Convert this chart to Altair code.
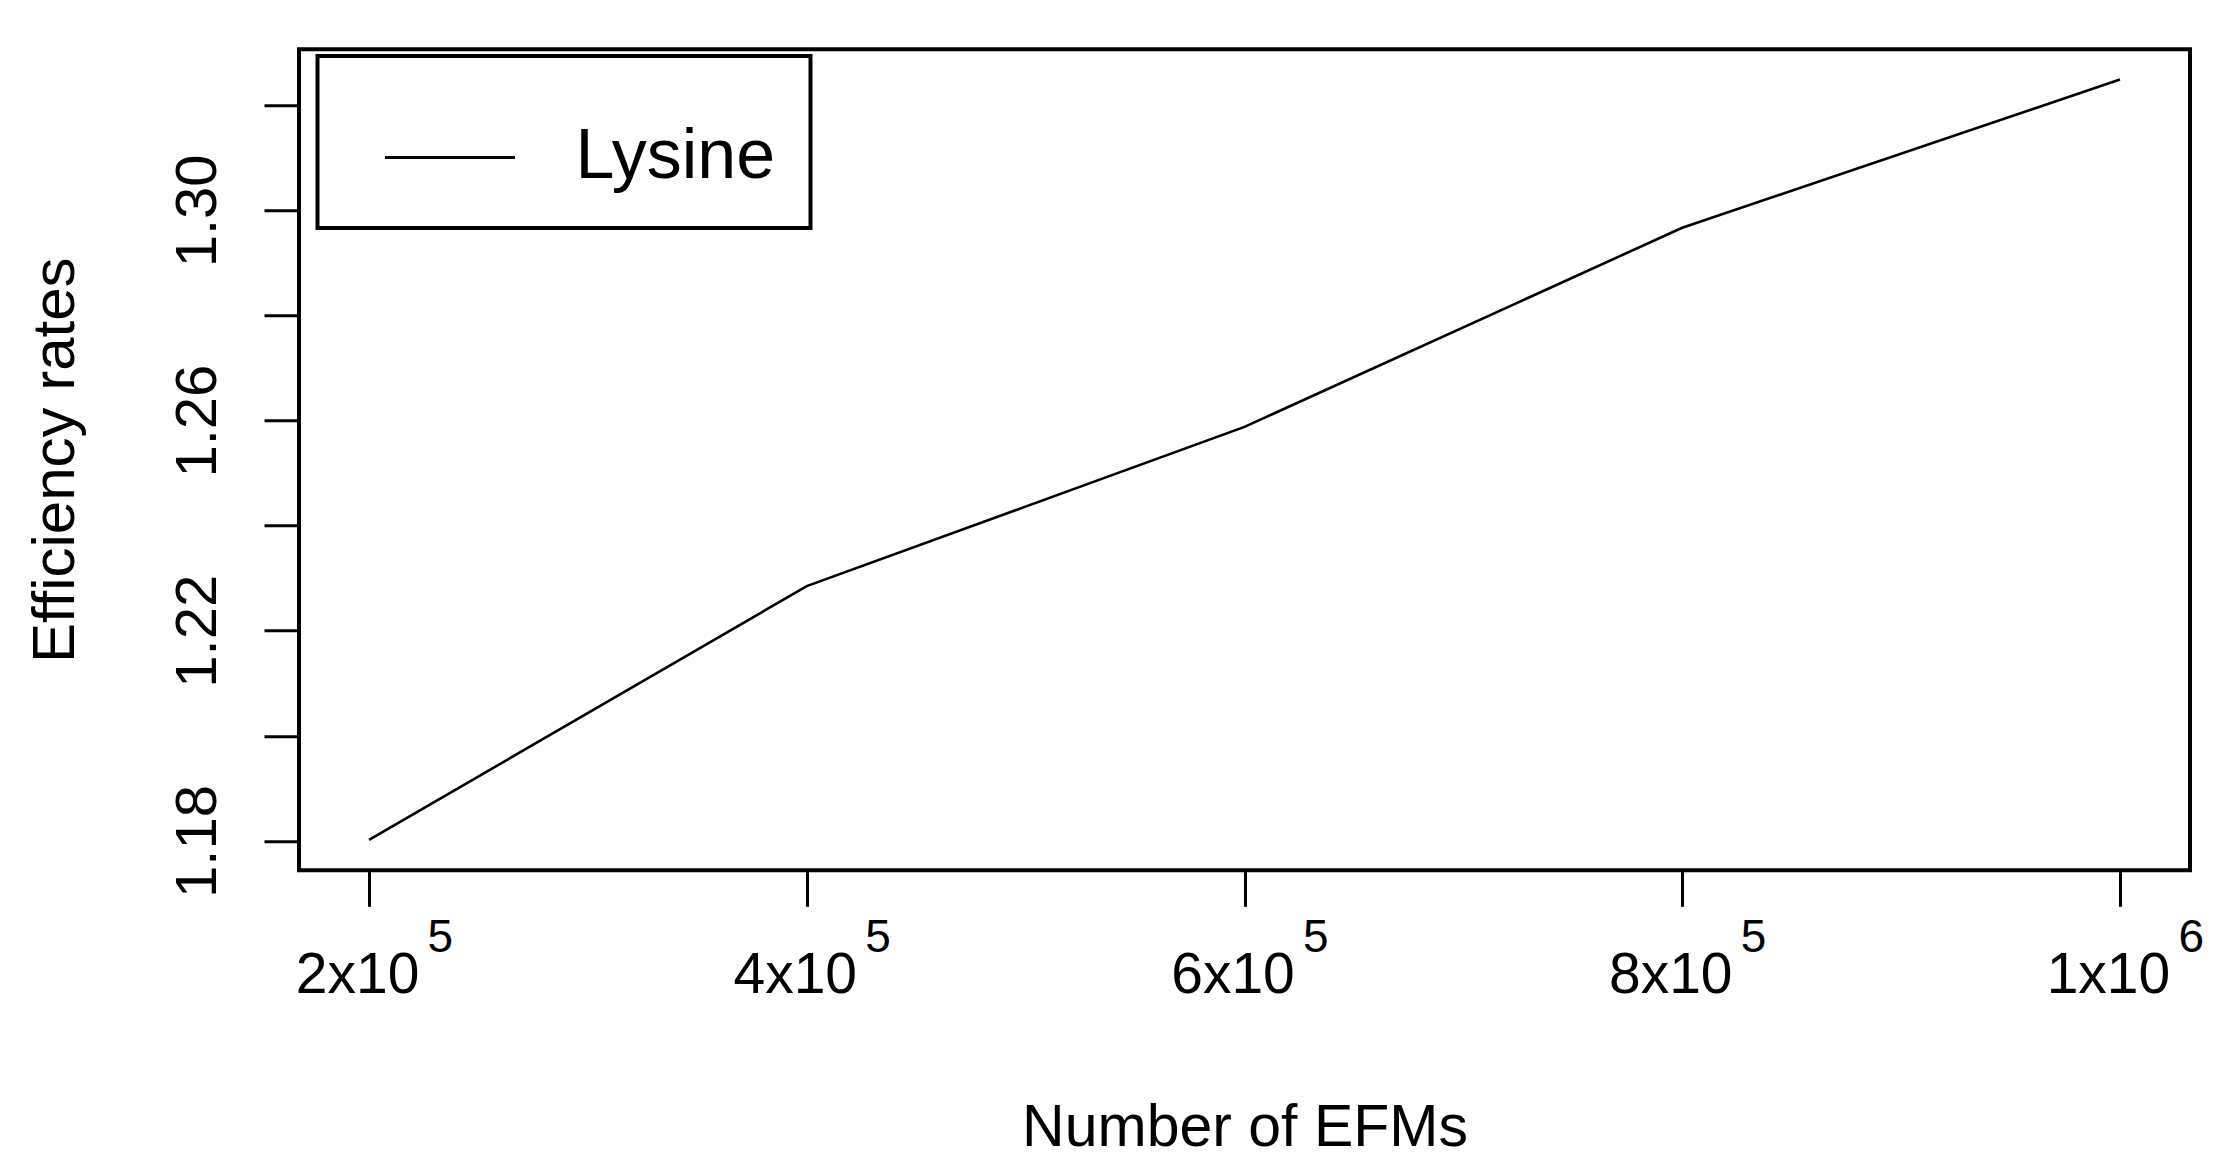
import altair as alt
import pandas as pd

# ---- data ----
efms = [200000, 400000, 600000, 800000, 1000000]
rates = [1.1802, 1.2285, 1.2588, 1.2967, 1.3249]
series = ["Lysine", "Lysine", "Lysine", "Lysine", "Lysine"]

x_tick_values = [200000, 400000, 600000, 800000, 1000000]
x_tick_bases = ["2x10", "4x10", "6x10", "8x10", "1x10"]
x_tick_exps = ["5", "5", "5", "5", "6"]

y_tick_values = [1.18, 1.20, 1.22, 1.24, 1.26, 1.28, 1.30, 1.32]
y_labelled = [1.18, 1.22, 1.26, 1.30]

x_domain = [168000, 1032000]
y_domain = [1.17442, 1.33066]

df = pd.DataFrame({"efms": efms, "rate": rates, "series": series})

FONT = "Liberation Sans"


def mapping_expr(values, labels):
    expr = "''"
    for v, lab in reversed(list(zip(values, labels))):
        expr = f"datum.value == {v} ? '{lab}' : ({expr})"
    return expr


base_expr = mapping_expr(x_tick_values, x_tick_bases)
exp_expr = mapping_expr(x_tick_values, x_tick_exps)
y_expr = (
    "indexof(" + str(y_labelled) + ", round(datum.value * 100) / 100) >= 0 ? "
    "format(datum.value, '.2f') : ''"
)

x_scale = alt.Scale(domain=x_domain, nice=False, zero=False)
y_scale = alt.Scale(domain=y_domain, nice=False, zero=False)

line = alt.Chart(df).mark_line(strokeWidth=2.6).encode(
    x=alt.X(
        "efms:Q",
        scale=x_scale,
        axis=alt.Axis(
            values=x_tick_values,
            labelExpr=base_expr,
            title="Number of EFMs",
            domain=False,
            grid=False,
            tickSize=36,
            tickWidth=3,
            tickColor="black",
            labelFont=FONT,
            labelFontSize=57,
            labelColor="black",
            labelPadding=86,
            labelBaseline="alphabetic",
            labelAlign="center",
            labelOffset=-12,
            labelOverlap=False,
            labelFlush=False,
            titleFont=FONT,
            titleFontSize=59,
            titleFontWeight="normal",
            titleColor="black",
            titleBaseline="alphabetic",
            titleY=275,
        ),
    ),
    y=alt.Y(
        "rate:Q",
        scale=y_scale,
        axis=alt.Axis(
            values=y_tick_values,
            labelExpr=y_expr,
            title="Efficiency rates",
            domain=False,
            grid=False,
            tickSize=35,
            tickWidth=3,
            tickColor="black",
            labelFont=FONT,
            labelFontSize=58,
            labelColor="black",
            labelAngle=-90,
            labelAlign="center",
            labelBaseline="alphabetic",
            labelPadding=49,
            labelOverlap=False,
            labelFlush=False,
            titleFont=FONT,
            titleFontSize=60,
            titleFontWeight="normal",
            titleColor="black",
            titleAngle=-90,
            titleBaseline="alphabetic",
            titleX=-226,
        ),
    ),
    color=alt.Color(
        "series:N",
        scale=alt.Scale(range=["black"]),
        legend=alt.Legend(
            title=None,
            orient="none",
            legendX=18.5,
            legendY=6.7,
            symbolType="stroke",
            symbolSize=16900,
            symbolStrokeWidth=3,
            symbolStrokeColor="black",
            symbolOffset=31,
            labelOffset=59,
            labelLimit=600,
            labelFont=FONT,
            labelFontSize=70,
            labelColor="black",
            padding=35,
            strokeColor="black",
        ),
    ),
)

exponents = alt.Chart(df).mark_point(opacity=0).encode(
    x=alt.X(
        "efms:Q",
        scale=x_scale,
        axis=alt.Axis(
            orient="bottom",
            values=x_tick_values,
            labelExpr=exp_expr,
            title=None,
            domain=False,
            grid=False,
            ticks=False,
            tickSize=0,
            labelFont=FONT,
            labelFontSize=46,
            labelColor="black",
            labelPadding=81,
            labelBaseline="alphabetic",
            labelAlign="left",
            labelOffset=58,
            labelOverlap=False,
            labelFlush=False,
        ),
    ),
)

chart = (
    alt.layer(line, exponents)
    .resolve_axis(x="independent")
    .properties(
        width=1891,
        height=821,
        autosize=alt.AutoSizeParams(type="none"),
        padding={"left": 291, "top": 41.3, "right": 30, "bottom": 292},
        background="white",
    )
    .configure_view(stroke="black", strokeWidth=4)
    .configure_legend(strokeWidth=4)
)

chart.save("out.html", embed_options={"renderer": "svg", "actions": False})
